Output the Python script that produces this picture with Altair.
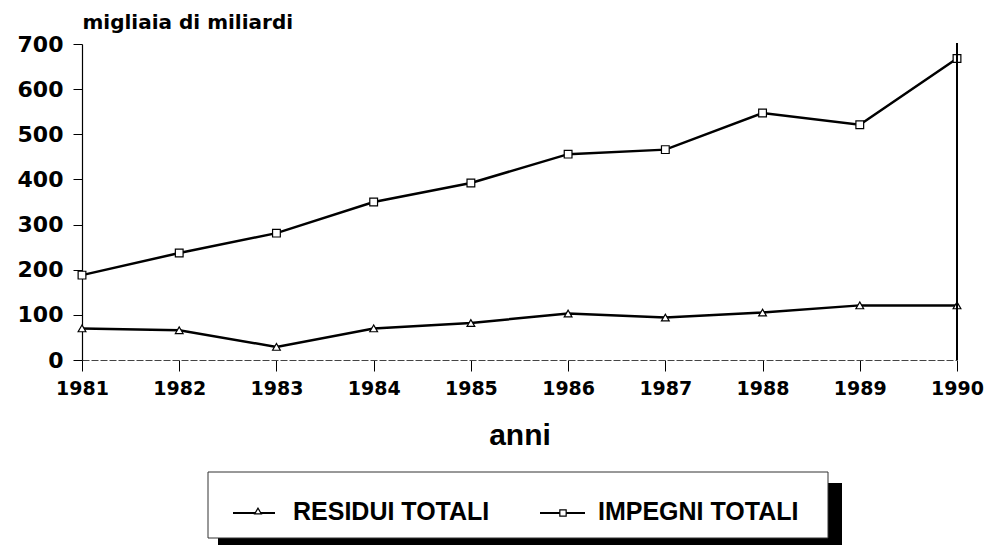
import altair as alt
import pandas as pd

years = [1981, 1982, 1983, 1984, 1985, 1986, 1987, 1988, 1989, 1990]
residui = [70, 66, 29, 70, 82, 103, 94, 105, 121, 121]
impegni = [188, 237, 281, 350, 392, 456, 466, 547, 521, 668]
series_names = ["RESIDUI TOTALI", "IMPEGNI TOTALI"]
y_ticks = [0, 100, 200, 300, 400, 500, 600, 700]

rows = []
for y, r, i in zip(years, residui, impegni):
    rows.append({"anno": y, "valore": r, "serie": series_names[0]})
    rows.append({"anno": y, "valore": i, "serie": series_names[1]})
df = pd.DataFrame(rows)

W, H = 875, 316
NUM_FONT = "DejaVu Sans"

x_enc = alt.X(
    "anno:Q",
    scale=alt.Scale(domain=[1981, 1990], nice=False, zero=False),
    axis=alt.Axis(
        values=years, format="d", title="anni", grid=False, labelFlush=False,
        labelFont=NUM_FONT, labelFontWeight="bold", labelFontSize=19,
        labelColor="black", labelPadding=8, tickSize=11, tickColor="black",
        domainColor="#444", domainWidth=1, domainDash=[7, 2],
        titleFont="Liberation Sans", titleFontWeight="bold", titleFontSize=30,
        titleColor="black", titleY=84, titleBaseline="alphabetic",
    ),
)
y_enc = alt.Y(
    "valore:Q",
    scale=alt.Scale(domain=[0, 700], nice=False),
    axis=alt.Axis(
        values=y_ticks, grid=False, title="migliaia di miliardi", labelFlush=False,
        labelFont=NUM_FONT, labelFontWeight="bold", labelFontSize=22,
        labelColor="black", labelPadding=10, tickSize=9, tickColor="black",
        domainColor="black", domainWidth=1.2,
        titleAngle=0, titleX=0, titleY=-16, titleAlign="left",
        titleBaseline="alphabetic", titleFont=NUM_FONT, titleFontWeight="bold",
        titleFontSize=20, titleColor="black",
    ),
)

base = alt.Chart(df)
lines = base.mark_line(color="black", strokeWidth=2.5).encode(
    x=x_enc, y=y_enc, detail="serie:N"
)
points = base.mark_point(filled=True, fill="white", stroke="black", strokeWidth=1.2, opacity=1).encode(
    x="anno:Q", y="valore:Q",
    shape=alt.Shape("serie:N", scale=alt.Scale(domain=series_names, range=["triangle-up", "square"]), legend=None),
    size=alt.Size("serie:N", scale=alt.Scale(domain=series_names, range=[60, 60]), legend=None),
)

one = pd.DataFrame({"k": [0]})
dummy = alt.Chart(one)

right_line = dummy.mark_rule(color="black", strokeWidth=2).encode(
    x=alt.value(W), y=alt.value(-1), y2=alt.value(H)
)

# legend box (shadow + box)
shadow = dummy.mark_rect(color="black").encode(
    x=alt.value(136), x2=alt.value(760), y=alt.value(439), y2=alt.value(503)
)
box = dummy.mark_rect(fill="white", stroke="#333", strokeWidth=1).encode(
    x=alt.value(126), x2=alt.value(746), y=alt.value(428), y2=alt.value(494)
)
leg_line1 = dummy.mark_rule(color="black", strokeWidth=2).encode(
    x=alt.value(151), x2=alt.value(193), y=alt.value(469)
)
leg_pt1 = dummy.mark_point(shape="triangle-up", size=45, filled=True, fill="white",
                           stroke="black", strokeWidth=1.2, opacity=1).encode(
    x=alt.value(176), y=alt.value(467)
)
leg_txt1 = dummy.mark_text(align="left", baseline="middle", font="Liberation Sans",
                           fontWeight="bold", fontSize=25, color="black").encode(
    x=alt.value(211), y=alt.value(468), text=alt.value(series_names[0])
)
leg_line2 = dummy.mark_rule(color="black", strokeWidth=2).encode(
    x=alt.value(458), x2=alt.value(503), y=alt.value(469)
)
leg_pt2 = dummy.mark_point(shape="square", size=40, filled=True, fill="white",
                           stroke="black", strokeWidth=1.2, opacity=1).encode(
    x=alt.value(481), y=alt.value(469)
)
leg_txt2 = dummy.mark_text(align="left", baseline="middle", font="Liberation Sans",
                           fontWeight="bold", fontSize=25, color="black").encode(
    x=alt.value(516), y=alt.value(468), text=alt.value(series_names[1])
)

chart = alt.layer(
    lines, points, right_line, shadow, box,
    leg_line1, leg_pt1, leg_txt1, leg_line2, leg_pt2, leg_txt2,
).properties(
    width=W, height=H,
    autosize=alt.AutoSizeParams(type="none"),
    padding={"left": 74, "top": 36, "right": 27, "bottom": 185},
).configure(background="white").configure_view(stroke=None)

chart.save("out.html", embed_options={"renderer": "svg", "actions": False})
